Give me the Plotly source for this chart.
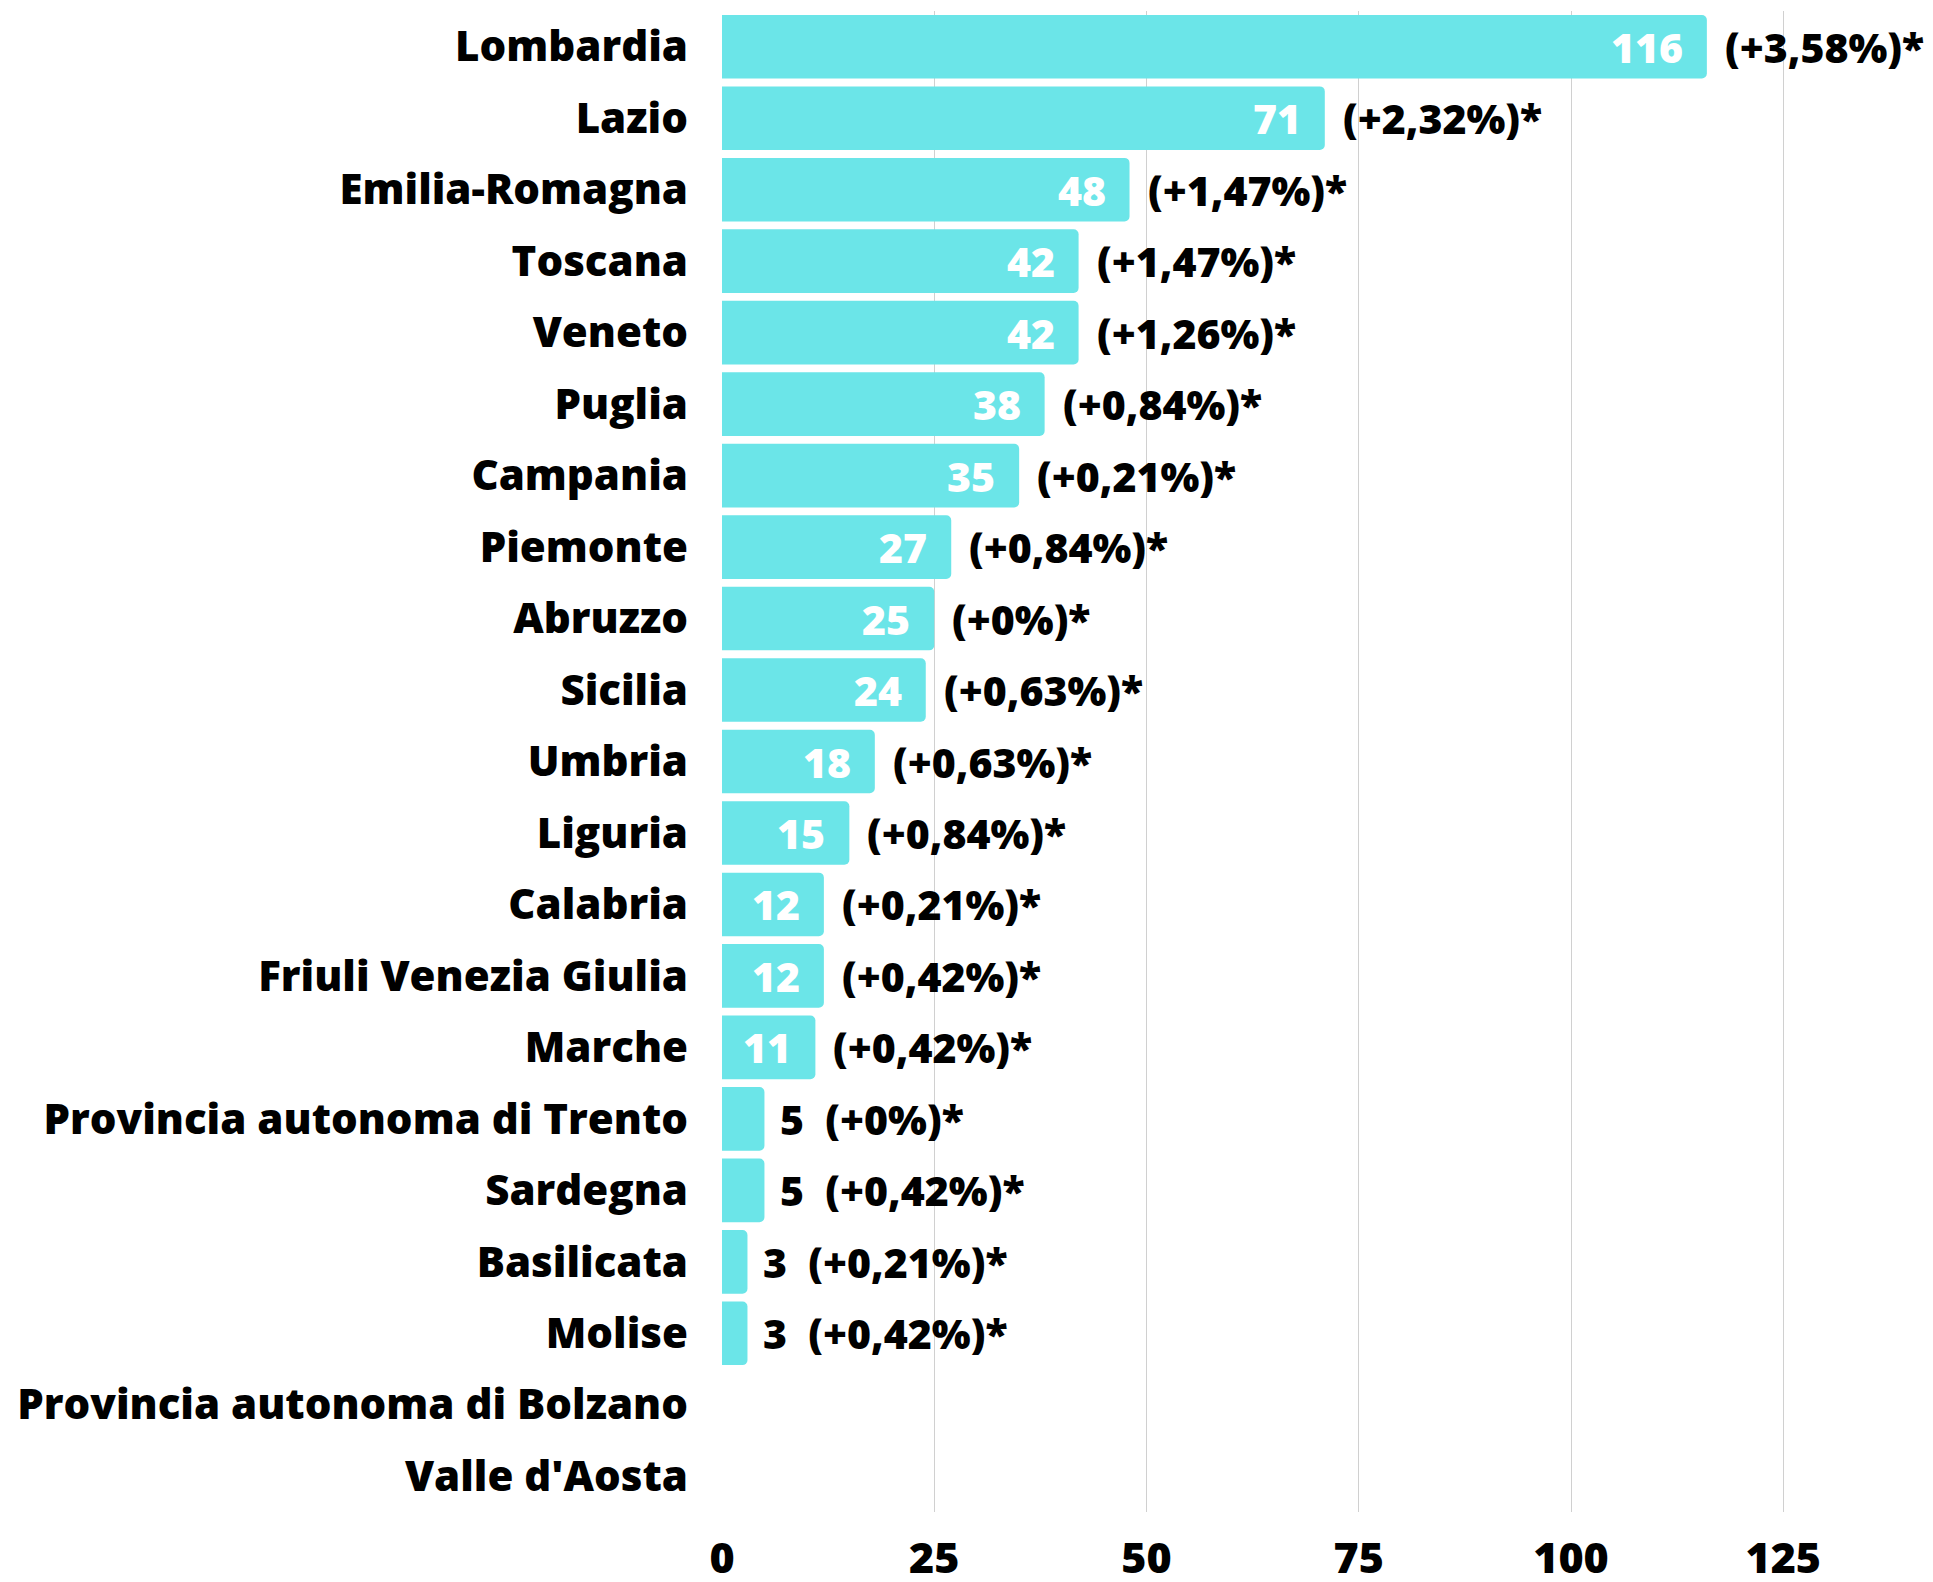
import plotly.graph_objects as go

regions = [
    "Lombardia", "Lazio", "Emilia-Romagna", "Toscana", "Veneto", "Puglia",
    "Campania", "Piemonte", "Abruzzo", "Sicilia", "Umbria", "Liguria",
    "Calabria", "Friuli Venezia Giulia", "Marche",
    "Provincia autonoma di Trento", "Sardegna", "Basilicata", "Molise",
    "Provincia autonoma di Bolzano", "Valle d'Aosta",
]
values = [116, 71, 48, 42, 42, 38, 35, 27, 25, 24, 18, 15, 12, 12, 11, 5, 5, 3, 3, 0, 0]
changes = [
    "(+3,58%)*", "(+2,32%)*", "(+1,47%)*", "(+1,47%)*", "(+1,26%)*", "(+0,84%)*",
    "(+0,21%)*", "(+0,84%)*", "(+0%)*", "(+0,63%)*", "(+0,63%)*", "(+0,84%)*",
    "(+0,21%)*", "(+0,42%)*", "(+0,42%)*", "(+0%)*", "(+0,42%)*", "(+0,21%)*",
    "(+0,42%)*", "", "",
]
x_ticks = [0, 25, 50, 75, 100, 125]

FONT = "Open Sans"
BAR_COLOR = "#6be5e8"

fig = go.Figure(go.Bar(
    x=values,
    y=regions,
    orientation="h",
    marker=dict(color=BAR_COLOR, line=dict(width=0)),
    hoverinfo="skip",
))

# value labels (white inside the bar, black after short bars) and % change
annotations = []
for name, v, c in zip(regions, values, changes):
    if v == 0:
        continue
    if v >= 10:
        annotations.append(dict(
            x=v, y=name, text=str(v), showarrow=False, xanchor="right",
            xshift=-22, font=dict(family=FONT, size=41, color="white", weight=800),
        ))
        annotations.append(dict(
            x=v, y=name, text=c, showarrow=False, xanchor="left",
            xshift=16, font=dict(family=FONT, size=41, color="black", weight=800),
        ))
    else:
        annotations.append(dict(
            x=v, y=name, text=str(v) + "\u00a0\u00a0" + c, showarrow=False,
            xanchor="left", xshift=14,
            font=dict(family=FONT, size=41, color="black", weight=800),
        ))

# page body has an 8px margin, so the figure is sized to fit the window
fig.update_layout(
    width=1925,
    height=1574,
    margin=dict(l=714, r=2, t=3, b=70),
    plot_bgcolor="white",
    paper_bgcolor="white",
    bargap=0.11,
    barcornerradius=5,
    showlegend=False,
    annotations=annotations,
    font=dict(family=FONT, size=42, color="black", weight=800),
)
fig.update_xaxes(
    range=[0, 142.4],
    tickvals=x_ticks,
    automargin=False,
    showgrid=True,
    gridcolor="#d0d0d0",
    gridwidth=1,
    zeroline=False,
    showline=False,
    ticks="",
    ticklabelstandoff=17,
    tickfont=dict(family=FONT, size=43, color="black", weight=800),
)
fig.update_yaxes(
    autorange="reversed",
    automargin=False,
    showgrid=False,
    showline=False,
    ticks="",
    ticklabelstandoff=33,
    tickfont=dict(family=FONT, size=42, color="black", weight=800),
)

fig.write_html("out.html")
